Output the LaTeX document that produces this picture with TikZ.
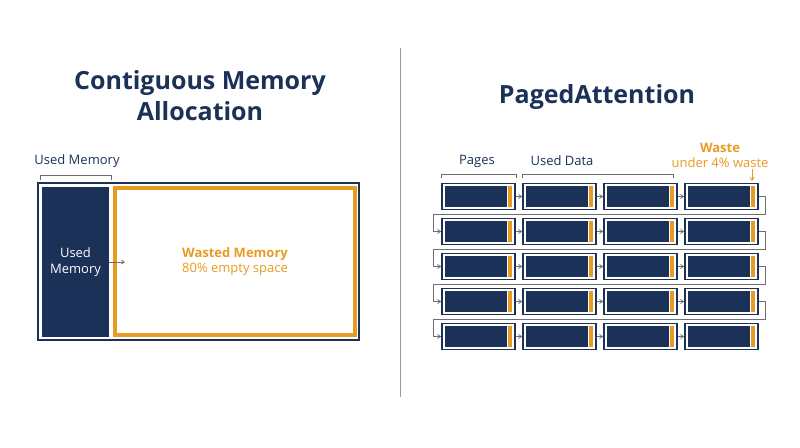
\documentclass[tikz,border=0pt]{standalone}
\usepackage{fontspec}
\setmainfont{Open Sans}
\usetikzlibrary{arrows.meta}
\definecolor{navy}{HTML}{1B3157}
\definecolor{org}{HTML}{E89B23}
\definecolor{gr}{HTML}{6E6E6E}
\begin{document}
\begin{tikzpicture}[x=1pt,y=-1pt,
  title/.style={text=navy,font=\fontsize{25}{31}\selectfont\bfseries,align=center},
  lab/.style={text=navy,font=\fontsize{13}{15}\selectfont},
  olab/.style={text=org,font=\fontsize{13}{15}\selectfont,align=center},
  brk/.style={draw=gr,line width=0.8pt},
  con/.style={draw=gr,line width=0.8pt,-{Straight Barb[length=3pt,width=4pt]}},
  cell/.style={draw=navy,line width=1.6pt,fill=white,minimum width=73pt,minimum height=26pt,inner sep=0pt}]
\useasboundingbox (0,0) rectangle (800,447);
\fill[white] (0,0) rectangle (800,447);
\draw[gr!70,line width=0.8pt] (400,48) -- (400,397);
\node[title] (t1) at (200,96) {Contiguous Memory\\Allocation};
\node[title] (t2) at (597,97) {PagedAttention};
% left
\node[lab] (um) at (77,161) {Used Memory};
\draw[brk] (40,180) -- (40,175) -- (111,175) -- (111,180);
\draw[navy,line width=1.6pt] (38,183) rectangle (359,340);
\fill[navy] (42,187) rectangle (109,337);
\node[text=white,font=\fontsize{13}{16}\selectfont,align=center] (umi) at (75.5,262) {Used\\Memory};
\draw[org,line width=4pt] (115,188) rectangle (355,335);
\node[olab] (wm) at (235,262) {\textbf{Wasted Memory}\\80\% empty space};
\coordinate (ua) at (109,262);
\coordinate (ub) at (125,262);
\draw[con] (ua) -- (ub);
% right labels
\node[lab] (pg) at (477,161) {Pages};
\draw[brk] (441,178) -- (441,174) -- (516,174) -- (516,178);
\node[lab] (ud) at (562,161) {Used Data};
\draw[brk] (522,178) -- (522,174) -- (673,174) -- (673,178);
\node[olab] (ws) at (720,155) {\textbf{Waste}\\under 4\% waste};
\coordinate (wa) at (752,169);
\coordinate (wb) at (752,181);
\draw[draw=org,line width=0.8pt,-{Straight Barb[length=3pt,width=4pt]}] (wa) -- (wb);
% grid
\foreach \r in {0,...,4}{
  \foreach \c/\x in {0/478.5,1/559.5,2/640.5,3/721.5}{
    \pgfmathsetmacro{\y}{196.5+35*\r}
    \node[cell] (c\r\c) at (\x,\y) {};
    \fill[navy] ([shift={(3.5,3.5)}]c\r\c.north west) rectangle ([shift={(-9,-3.5)}]c\r\c.south east);
    \fill[org] ([shift={(-8,3.5)}]c\r\c.north east) rectangle ([shift={(-3.5,-3.5)}]c\r\c.south east);
  }
  \draw[con] (c\r0) -- (c\r1);
  \draw[con] (c\r1) -- (c\r2);
  \draw[con] (c\r2) -- (c\r3);
}
\foreach \r/\n in {0/1,1/2,2/3,3/4}{
  \pgfmathsetmacro{\ym}{196.5+35*\r+17.5}
  \draw[con] (c\r3.east) -- ++(7,0) |- (433,\ym) |- (c\n0.west);
}
\end{tikzpicture}
\end{document}
